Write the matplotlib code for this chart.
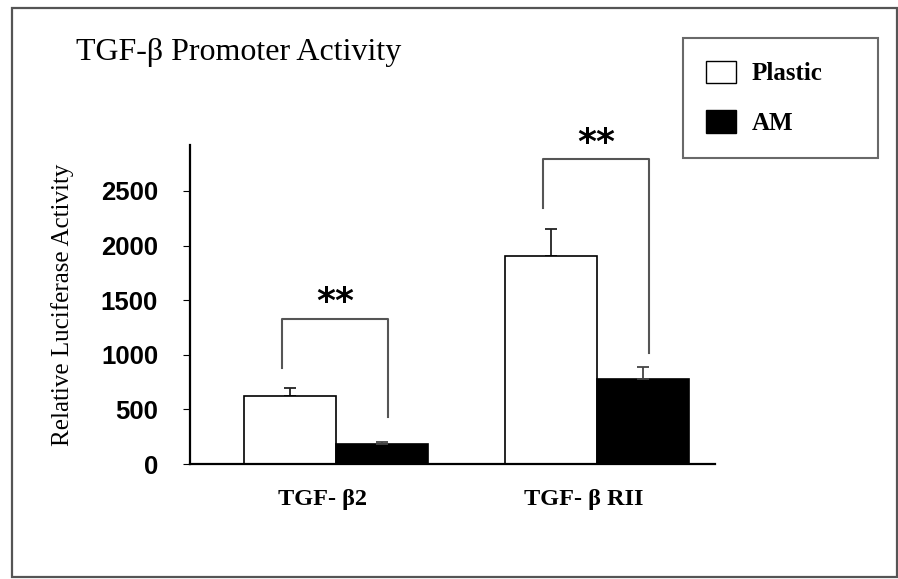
import numpy as np
import matplotlib
matplotlib.use('Agg')
import matplotlib.pyplot as plt
from matplotlib.patches import Patch, Rectangle

# data
groups = ['TGF- β2', 'TGF- β RII']
plastic = [620, 1905]
plastic_err = [75, 245]
am = [180, 780]
am_err = [20, 110]

# significance brackets: top of bracket, bottom of left / right legs
bracket_top = [1330, 2790]
bracket_left_end = [880, 2345]
bracket_right_end = [430, 1015]
stars = ['**', '**']

W, H = 898, 579
fig = plt.figure(figsize=(W / 100, H / 100), dpi=100)
ax = fig.add_axes([190 / W, 1 - 464 / H, 525 / W, 319 / H])

x = np.arange(len(groups))
bw = 0.352
ax.bar(x - bw / 2, plastic, bw, color='white', edgecolor='black', linewidth=1.2, zorder=2)
ax.bar(x + bw / 2, am, bw, color='black', edgecolor='black', linewidth=1.2, zorder=2)

# upper-only error bars
ax.errorbar(x - bw / 2, plastic, yerr=[np.zeros(len(x)), plastic_err], fmt='none',
            ecolor='#222222', elinewidth=1.3, capsize=4, capthick=1.3, zorder=1)
ax.errorbar(x + bw / 2, am, yerr=[np.zeros(len(x)), am_err], fmt='none',
            ecolor='#444444', elinewidth=1.3, capsize=4, capthick=1.3, zorder=3)

# brackets with stars
for i in range(len(groups)):
    xl, xr = x[i] - 0.205, x[i] + 0.2
    ax.plot([xl, xl, xr, xr], [bracket_left_end[i], bracket_top[i], bracket_top[i], bracket_right_end[i]],
            color='#555555', lw=1.5, clip_on=False, zorder=1)
    ax.text((xl + xr) / 2, bracket_top[i] + 150, stars[i], ha='center', va='center',
            fontsize=26, fontweight='bold', family='DejaVu Sans', clip_on=False)

ax.set_xlim(-0.559, 1.452)
ax.set_ylim(0, 2920)
ax.set_yticks([0, 500, 1000, 1500, 2000, 2500])
ax.set_yticklabels(['0', '500', '1000', '1500', '2000', '2500'],
                   fontsize=18.5, fontweight='bold', family='Liberation Sans')
ax.tick_params(axis='y', direction='out', length=5, width=0.8, pad=18)
ax.set_xticks(x - 0.05)
ax.set_xticklabels(groups, fontsize=17.5, fontweight='bold', family='Liberation Serif')
ax.tick_params(axis='x', length=0, pad=18)
for s in ['top', 'right']:
    ax.spines[s].set_visible(False)
ax.spines['left'].set_linewidth(1.6)
ax.spines['bottom'].set_linewidth(1.6)

fig.text(63 / W, 1 - 305 / H, 'Relative Luciferase Activity', rotation=90,
         ha='center', va='center', fontsize=18, family='Liberation Serif')
fig.text(76 / W, 1 - 60 / H, 'TGF-β Promoter Activity', ha='left', va='baseline',
         fontsize=23, family='Liberation Serif')

handles = [Patch(facecolor='white', edgecolor='black', linewidth=1.0),
           Patch(facecolor='black', edgecolor='black')]
leg = fig.legend(handles, ['Plastic', 'AM'], loc='upper left',
                 bbox_to_anchor=(683 / W, 1 - 38 / H - 0.01, 195 / W, 0.01), mode='expand',
                 borderaxespad=0, frameon=True, fancybox=False, shadow=False,
                 handlelength=1.2, handleheight=1.0, handletextpad=0.65,
                 labelspacing=1.0, borderpad=0.9,
                 prop={'family': 'Liberation Serif', 'weight': 'bold', 'size': 18})
leg.get_frame().set_edgecolor('#444444')
leg.get_frame().set_linewidth(1.5)

# outer frame around the whole picture
fig.patches.append(Rectangle((12 / W, 1 - 577 / H), (W - 1 - 12) / W, (577 - 8) / H,
                             transform=fig.transFigure, fill=False,
                             edgecolor='#555555', linewidth=1.6))

fig.savefig('out.png', dpi=100)
